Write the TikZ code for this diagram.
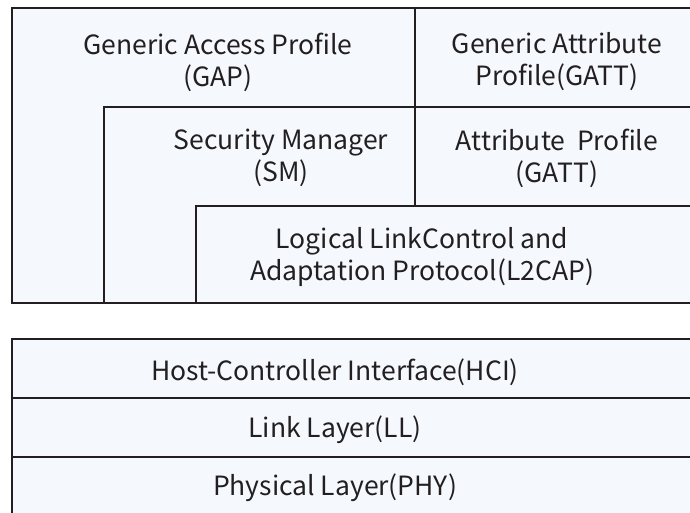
\documentclass[tikz,border=0pt]{standalone}
\usepackage{fontspec}
\setmainfont{Noto Sans CJK SC}
\begin{document}
\begin{tikzpicture}[x=1pt,y=-1pt,
  edge/.style={draw=linec,line width=2pt},
  lbl/.style={font=\fontsize{26.5}{32}\selectfont,text=textc,align=center,inner sep=0pt}]
\definecolor{linec}{HTML}{231F20}
\definecolor{fillc}{HTML}{F5F9FD}
\definecolor{textc}{HTML}{231F20}
\useasboundingbox (0,0) rectangle (690,513);
\clip (0,0) rectangle (690,513);
% host block
\fill[fillc] (12,8) rectangle (700,303);
\draw[edge] (700,8) -- (12,8) -- (12,303) -- (700,303);
\draw[edge] (415,8) -- (415,206);
\draw[edge] (104,303) -- (104,107) -- (700,107);
\draw[edge] (196,303) -- (196,206) -- (700,206);
% controller block
\fill[fillc] (12,339) rectangle (700,530);
\draw[edge] (700,339) -- (12,339) -- (12,530);
\draw[edge] (12,398) -- (700,398);
\draw[edge] (12,457) -- (700,457);
% labels
\node[lbl] (gap) at (218,62) {Generic Access Profile\\(GAP)};
\node[lbl] (gatt) at (557,62) {Generic Attribute\\Profile(GATT)};
\node[lbl] (sm) at (281,158) {Security Manager\\(SM)};
\node[lbl] (att) at (557,158) {Attribute\ \ Profile\\(GATT)};
\node[lbl] (l2cap) at (422,257) {Logical LinkControl and\\Adaptation Protocol(L2CAP)};
\node[lbl] (hci) at (335,372) {Host-Controller Interface(HCI)};
\node[lbl] (ll) at (335,430) {Link Layer(LL)};
\node[lbl] (phy) at (335,488) {Physical Layer(PHY)};
\end{tikzpicture}
\end{document}
